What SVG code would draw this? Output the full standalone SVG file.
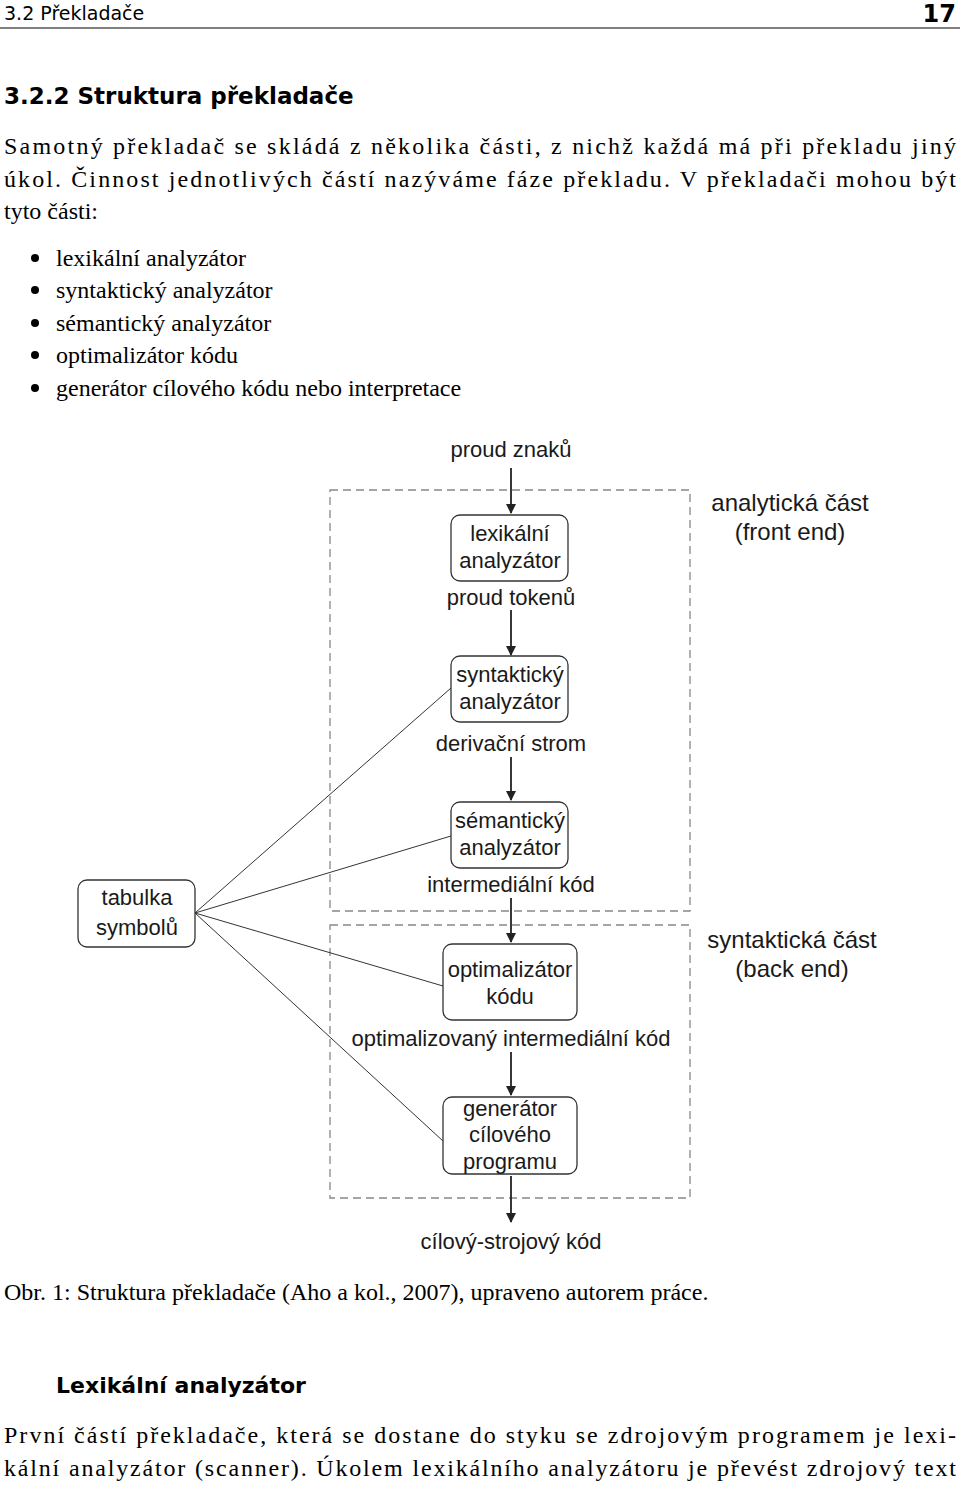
<svg xmlns="http://www.w3.org/2000/svg" width="960" height="1485" viewBox="0 0 960 1485">
<style>
.s{font-family:"Liberation Serif",serif;font-size:24px;fill:#000}
.h{font-family:"DejaVu Sans",sans-serif;fill:#000}
.d{font-family:"Liberation Sans",Arial,sans-serif;font-size:22px;fill:#1a1a1a;text-anchor:middle}
.box{fill:#fff;stroke:#333;stroke-width:1.3}
.dash{fill:none;stroke:#888;stroke-width:1.3;stroke-dasharray:8,5}
.c{stroke:#222;stroke-width:1.8;fill:none}
.t{stroke:#333;stroke-width:1;fill:none}
</style>
<defs><marker id="a" markerWidth="10" markerHeight="10" refX="9" refY="5" orient="auto" markerUnits="userSpaceOnUse"><path d="M0,0 L10,5 L0,10 z" fill="#222"/></marker></defs>
<rect width="960" height="1485" fill="#fff"/>
<text class="h" x="4" y="20" font-size="19">3.2   Překladače</text>
<text class="h" x="956" y="22" font-size="24" text-anchor="end" font-weight="bold">17</text>
<line x1="0" y1="28" x2="960" y2="28" stroke="#000" stroke-width="1"/>
<text class="h" x="4" y="104" font-size="23" font-weight="bold">3.2.2   Struktura překladače</text>
<text class="s" x="4" y="154" textLength="952">Samotný překladač se skládá z několika části, z nichž každá má při překladu jiný</text>
<text class="s" x="4" y="187" textLength="952">úkol. Činnost jednotlivých částí nazýváme fáze překladu. V překladači mohou být</text>
<text class="s" x="4" y="219">tyto části:</text>
<g class="s">
<circle cx="35" cy="258" r="4"/><text x="56" y="266">lexikální analyzátor</text>
<circle cx="35" cy="290" r="4"/><text x="56" y="298">syntaktický analyzátor</text>
<circle cx="35" cy="323" r="4"/><text x="56" y="331">sémantický analyzátor</text>
<circle cx="35" cy="355" r="4"/><text x="56" y="363">optimalizátor kódu</text>
<circle cx="35" cy="388" r="4"/><text x="56" y="396">generátor cílového kódu nebo interpretace</text>
</g>
<rect class="dash" x="330" y="490" width="360" height="421"/>
<rect class="dash" x="330" y="925" width="360" height="273"/>
<g id="connectors">
<line class="c" x1="511" y1="468" x2="511" y2="513" marker-end="url(#a)"/>
<line class="c" x1="511" y1="610" x2="511" y2="655" marker-end="url(#a)"/>
<line class="c" x1="511" y1="757" x2="511" y2="800" marker-end="url(#a)"/>
<line class="c" x1="511" y1="898" x2="511" y2="942" marker-end="url(#a)"/>
<line class="c" x1="511" y1="1052" x2="511" y2="1095" marker-end="url(#a)"/>
<line class="c" x1="511" y1="1176" x2="511" y2="1222" marker-end="url(#a)"/>
<line class="t" x1="195" y1="913" x2="451" y2="688"/>
<line class="t" x1="195" y1="913" x2="451" y2="836"/>
<line class="t" x1="195" y1="913" x2="443" y2="986"/>
<line class="t" x1="195" y1="913" x2="443" y2="1141"/>
</g>
<g id="lex"><rect class="box" x="451" y="515" width="117" height="66" rx="9"/><text class="d" x="510" y="541">lexikální</text><text class="d" x="510" y="568">analyzátor</text></g>
<g id="syn"><rect class="box" x="451" y="656" width="117" height="66" rx="9"/><text class="d" x="510" y="682">syntaktický</text><text class="d" x="510" y="709">analyzátor</text></g>
<g id="sem"><rect class="box" x="451" y="802" width="117" height="66" rx="9"/><text class="d" x="510" y="828">sémantický</text><text class="d" x="510" y="855">analyzátor</text></g>
<g id="opt"><rect class="box" x="443" y="944" width="134" height="76" rx="9"/><text class="d" x="510" y="977">optimalizátor</text><text class="d" x="510" y="1004">kódu</text></g>
<g id="gen"><rect class="box" x="443" y="1097" width="134" height="77" rx="9"/><text class="d" x="510" y="1116">generátor</text><text class="d" x="510" y="1142">cílového</text><text class="d" x="510" y="1169">programu</text></g>
<g id="tab"><rect class="box" x="78" y="880" width="117" height="67" rx="9"/><text class="d" x="137" y="905" font-size="24">tabulka</text><text class="d" x="137" y="935" font-size="24">symbolů</text></g>
<g class="d">
<text x="511" y="457">proud znaků</text>
<text x="511" y="605">proud tokenů</text>
<text x="511" y="751">derivační strom</text>
<text x="511" y="892">intermediální kód</text>
<text x="511" y="1046">optimalizovaný intermediální kód</text>
<text x="511" y="1249">cílový-strojový kód</text>
<text x="790" y="511" font-size="24">analytická část</text>
<text x="790" y="540" font-size="24">(front end)</text>
<text x="792" y="948" font-size="24">syntaktická část</text>
<text x="792" y="977" font-size="24">(back end)</text>
</g>
<text class="s" x="4" y="1300">Obr. 1: Struktura překladače (Aho a kol., 2007), upraveno autorem práce.</text>
<text class="h" x="56" y="1393" font-size="22" font-weight="bold">Lexikální analyzátor</text>
<text class="s" x="4" y="1443" textLength="952">První částí překladače, která se dostane do styku se zdrojovým programem je lexi-</text>
<text class="s" x="4" y="1476" textLength="952">kální analyzátor (scanner). Úkolem lexikálního analyzátoru je převést zdrojový text</text>
</svg>
